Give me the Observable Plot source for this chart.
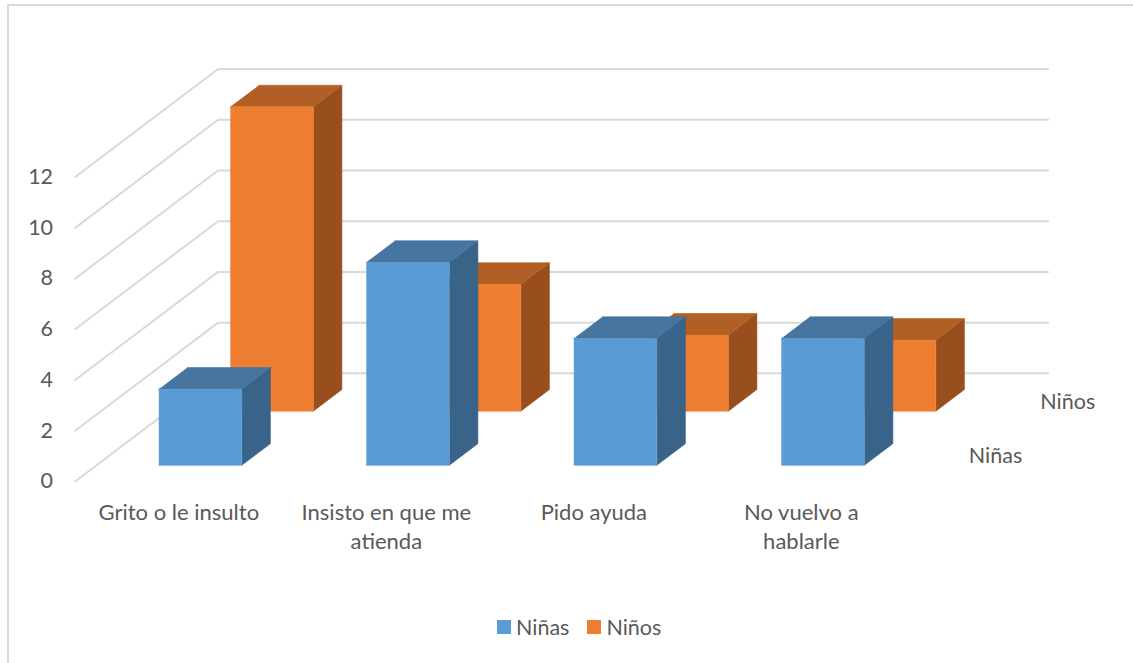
<!DOCTYPE html>
<html>
<head>
<meta charset="utf-8">
<script src="https://cdn.jsdelivr.net/npm/d3@7"></script>
<script src="https://cdn.jsdelivr.net/npm/@observablehq/plot@0.6"></script>
<style>
html,body{margin:0;padding:0;background:#fff;overflow:hidden}
#wrap{position:relative;width:1133px;height:663px;overflow:hidden}
#frame{position:absolute;left:7px;top:4px;width:1140px;height:670px;border:2px solid #d9d9d9;box-sizing:content-box}
#chart{position:absolute;left:0;top:0}
#legend{position:absolute;left:497px;top:614px;display:flex;align-items:center;font:21.5px Lato,sans-serif;color:#595959}
#legend i{display:inline-block;width:14px;height:14px;margin-right:5px}
#legend span{margin-right:18px}
</style>
</head>
<body>
<div id="wrap">
<div id="frame"></div>
<div id="chart"></div>
<div id="legend"></div>
</div>
<script>
const categories = ["Grito o le insulto", "Insisto en que me\natienda", "Pido ayuda", "No vuelvo a\nhablarle"];
const ninas = [3, 8, 5, 5];
const ninos = [12, 5, 3, 2.8];
const yTicks = [0, 2, 4, 6, 8, 10, 12];
const seriesNames = ["Niñas", "Niños"];

// oblique projection of the 3-D chart: depth runs 0 (front) to 1 (back)
const depthX = 143 / 207.5;   // category units per unit of depth
const depthY = 108 / 25.33;   // value units per unit of depth
const px = (u, d) => u + d * depthX;
const py = (v, d) => v + d * depthY;

const rows = [
  {name: seriesNames[1], values: ninos, d0: 0.65, d1: 0.85, front: "#ED7D31", top: "#B25F25", side: "#984E1D"},
  {name: seriesNames[0], values: ninas, d0: 0.15, d1: 0.35, front: "#5B9BD5", top: "#4675A0", side: "#396388"}
];

const faces = [];
rows.forEach(r => r.values.forEach((v, i) => {
  const u0 = i + 0.3, u1 = i + 0.7;
  const {d0, d1} = r;
  const id = `${r.name}-${i}`;
  const add = (face, fill, pts) => pts.forEach(([u, val, d]) =>
    faces.push({face: `${id}-${face}`, fill, x: px(u, d), y: py(val, d)}));
  add("side", r.side, [[u1,0,d0],[u1,0,d1],[u1,v,d1],[u1,v,d0]]);
  add("top", r.top, [[u0,v,d0],[u1,v,d0],[u1,v,d1],[u0,v,d1]]);
  add("front", r.front, [[u0,0,d0],[u1,0,d0],[u1,v,d0],[u0,v,d0]]);
}));

const grid = yTicks.flatMap(t => [
  {t, x: px(0, 0), y: py(t, 0)},
  {t, x: px(0, 1), y: py(t, 1)},
  {t, x: px(categories.length, 1), y: py(t, 1)}
]);

const font = {fontFamily: "Lato, sans-serif", fontSize: 21.5, fill: "#595959"};

const plot = Plot.plot({
  width: 1133,
  height: 610,
  margin: 0,
  x: {domain: [0, px(categories.length, 1)], range: [74.6, 1047.6], axis: null},
  y: {domain: [0, py(12, 1)], range: [481, 68.5], axis: null},
  color: {type: "identity"},
  marks: [
    Plot.line(grid, {x: "x", y: "y", z: "t", stroke: "#d9d9d9", strokeWidth: 2, curve: "linear"}),
    Plot.line(faces, {x: "x", y: "y", z: "face", fill: "fill", stroke: "fill", strokeWidth: 0.6, strokeLinejoin: "miter"}),
    Plot.text(yTicks, {x: () => px(0, 0), y: t => py(t, 0), text: t => String(t), textAnchor: "end", dx: -22, ...font}),
    Plot.text(categories, {x: (c, i) => px(i + 0.5, 0), y: () => py(0, 0), text: c => c, dy: 17.5, lineAnchor: "top", lineHeight: 1.32, ...font, fontSize: 22}),
    Plot.text(rows, {x: r => px(categories.length, (r.d0 + r.d1) / 2), y: r => py(0, (r.d0 + r.d1) / 2), text: "name", textAnchor: "start", dx: 28, dy: 1.5, ...font})
  ]
});
document.getElementById("chart").appendChild(plot);

const legend = document.getElementById("legend");
[[seriesNames[0], "#5B9BD5"], [seriesNames[1], "#ED7D31"]].forEach(([n, c]) => {
  const sw = document.createElement("i"); sw.style.background = c; legend.appendChild(sw);
  const s = document.createElement("span"); s.textContent = n; legend.appendChild(s);
});
</script>
</body>
</html>
